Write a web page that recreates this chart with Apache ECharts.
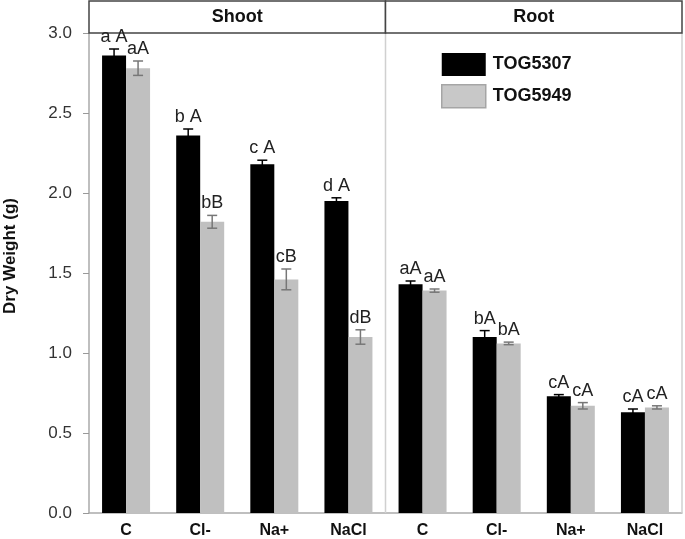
<!DOCTYPE html>
<html>
<head>
<meta charset="utf-8">
<script src="https://cdn.jsdelivr.net/npm/echarts@6/dist/echarts.min.js"></script>
<style>
  html, body { margin: 0; padding: 0; background: #fff; }
  #chart { width: 685px; height: 539px; }
</style>
</head>
<body>
<div id="chart"></div>
<script>
// categories: first four are shoot, last four are root
const categories = ['C', 'Cl-', 'Na+', 'NaCl', 'C', 'Cl-', 'Na+', 'NaCl']
const panels = ['Shoot', 'Root']
const seriesNames = ['TOG5307', 'TOG5949']

// dry weight means (g)
const tog5307 = [2.86, 2.36, 2.18, 1.95, 1.43, 1.10, 0.73, 0.63]
const tog5949 = [2.78, 1.82, 1.46, 1.10, 1.39, 1.06, 0.67, 0.66]
// error bar half widths
const tog5307Err = [0.04, 0.04, 0.025, 0.02, 0.02, 0.04, 0.01, 0.02]
const tog5949Err = [0.045, 0.04, 0.065, 0.045, 0.01, 0.008, 0.02, 0.01]
// letters above bars
const tog5307Labels = ['a A', 'b A', 'c A', 'd A', 'aA', 'bA', 'cA', 'cA']
const tog5949Labels = ['aA', 'bB', 'cB', 'dB', 'aA', 'bA', 'cA', 'cA']

const yTicks = [0, 0.5, 1.0, 1.5, 2.0, 2.5, 3.0]

// grid box (pixels)
const G = { left: 89, right: 3, top: 33, bottom: 26 }
const W = 685, H = 539
const plotW = W - G.left - G.right
const midX = G.left + plotW / 2
const barW = 24
const FONT = 'Liberation Sans, Arial, sans-serif'

const chart = echarts.init(document.getElementById('chart'))

// error bar + letter label, drawn over each bar
function errRenderer (errs, labels, side, color) {
  return function (params, api) {
    const i = api.value(0)
    const v = api.value(1)
    const e = errs[params.dataIndex]
    const top = api.coord([i, v + e])
    const bot = api.coord([i, v - e])
    const x = top[0] + side * barW / 2
    const cap = 5
    return {
      type: 'group',
      children: [
        { type: 'line', shape: { x1: x, y1: top[1], x2: x, y2: bot[1] }, style: { stroke: color, lineWidth: 1.5 } },
        { type: 'line', shape: { x1: x - cap, y1: top[1], x2: x + cap, y2: top[1] }, style: { stroke: color, lineWidth: 1.5 } },
        { type: 'line', shape: { x1: x - cap, y1: bot[1], x2: x + cap, y2: bot[1] }, style: { stroke: color, lineWidth: 1.5 } },
        {
          type: 'text',
          x: x,
          y: top[1] - 3,
          style: {
            text: labels[params.dataIndex],
            align: 'center',
            verticalAlign: 'bottom',
            fontFamily: FONT,
            fontSize: 18,
            fill: '#222'
          }
        }
      ]
    }
  }
}

const option = {
  animation: false,
  backgroundColor: '#fff',
  textStyle: { fontFamily: FONT },
  grid: { left: G.left, right: G.right, top: G.top, bottom: G.bottom, containLabel: false },
  legend: {
    orient: 'vertical',
    left: 441,
    top: 53,
    padding: 0,
    icon: 'rect',
    itemWidth: 44,
    itemHeight: 23,
    itemGap: 8,
    textStyle: { fontSize: 18, fontWeight: 'bold', color: '#111', padding: [0, 0, 0, 2] },
    data: [
      { name: seriesNames[0], itemStyle: { color: '#000' } },
      { name: seriesNames[1], itemStyle: { color: '#c8c8c8', borderColor: '#a5a5a5', borderWidth: 1.5 } }
    ]
  },
  xAxis: {
    type: 'category',
    data: categories,
    axisLine: { lineStyle: { color: '#aaa', width: 1.5 } },
    axisTick: { show: false },
    axisLabel: { fontSize: 16, fontWeight: 'bold', color: '#111', margin: 10 },
    splitLine: { show: false }
  },
  yAxis: {
    type: 'value',
    min: 0,
    max: 3,
    interval: 0.5,
    axisLine: { show: true, lineStyle: { color: '#aaa', width: 1.5 } },
    axisTick: { show: true, length: 6, lineStyle: { color: '#999' } },
    axisLabel: { fontSize: 17, color: '#333', margin: 17, formatter: v => yTicks.includes(v) ? v.toFixed(1) : '' },
    splitLine: { show: false }
  },
  series: [
    {
      name: seriesNames[0],
      type: 'bar',
      data: tog5307,
      barWidth: barW,
      barGap: '0%',
      itemStyle: { color: '#000' },
      z: 2
    },
    {
      name: seriesNames[1],
      type: 'bar',
      data: tog5949,
      barWidth: barW,
      itemStyle: { color: '#c0c0c0' },
      z: 2
    },
    {
      type: 'custom',
      name: 'err1',
      renderItem: errRenderer(tog5307Err, tog5307Labels, -1, '#000'),
      data: tog5307.map((v, i) => [i, v]),
      encode: { x: 0, y: 1 },
      z: 5
    },
    {
      type: 'custom',
      name: 'err2',
      renderItem: errRenderer(tog5949Err, tog5949Labels, 1, '#777'),
      data: tog5949.map((v, i) => [i, v]),
      encode: { x: 0, y: 1 },
      z: 5
    }
  ],
  graphic: [
    // panel frame lines
    { type: 'line', shape: { x1: midX, y1: G.top, x2: midX, y2: H - G.bottom }, style: { stroke: '#d0d0d0', lineWidth: 1.5 }, z: 1 },
    { type: 'line', shape: { x1: W - G.right, y1: G.top, x2: W - G.right, y2: H - G.bottom }, style: { stroke: '#d0d0d0', lineWidth: 1.5 }, z: 1 },
    // strip headers
    { type: 'rect', shape: { x: G.left, y: 1, width: plotW / 2, height: G.top - 1 }, style: { fill: '#fff', stroke: '#444', lineWidth: 1.5 }, z: 1 },
    { type: 'rect', shape: { x: midX, y: 1, width: plotW / 2, height: G.top - 1 }, style: { fill: '#fff', stroke: '#444', lineWidth: 1.5 }, z: 1 },
    { type: 'text', x: G.left + plotW / 4, y: 17, style: { text: panels[0], align: 'center', verticalAlign: 'middle', fontSize: 18, fontWeight: 'bold', fill: '#111', fontFamily: FONT }, z: 3 },
    { type: 'text', x: midX + plotW / 4, y: 17, style: { text: panels[1], align: 'center', verticalAlign: 'middle', fontSize: 18, fontWeight: 'bold', fill: '#111', fontFamily: FONT }, z: 3 },
    // y axis title
    { type: 'text', x: 10, y: 256, rotation: Math.PI / 2, style: { text: 'Dry Weight (g)', align: 'center', verticalAlign: 'middle', fontSize: 17, fontWeight: 'bold', fill: '#111', fontFamily: FONT } }
  ]
}

chart.setOption(option)
</script>
</body>
</html>
